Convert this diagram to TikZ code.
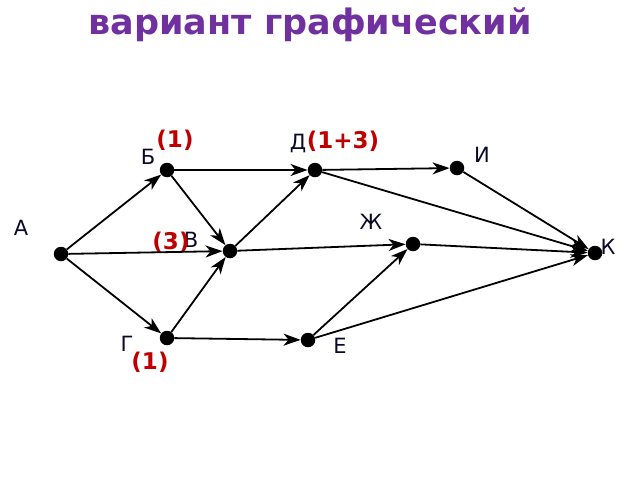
\documentclass[tikz,border=0pt]{standalone}
\usepackage{fontspec}
\setmainfont{DejaVu Sans}
\usetikzlibrary{arrows.meta}
\definecolor{titlecol}{HTML}{7030A0}
\definecolor{redlab}{HTML}{C00000}
\definecolor{labcol}{HTML}{0A0A28}
\begin{document}
\begin{tikzpicture}[x=1pt,y=-1pt,
  dot/.style={circle,fill=black,inner sep=0pt,minimum size=14.5pt},
  edge/.style={draw=black,line width=1.8pt,-{Stealth[length=17pt,width=12pt,inset=5pt]},shorten >=0pt},
  lab/.style={font=\fontsize{21}{21}\selectfont,text=labcol,inner sep=0pt},
  cnt/.style={font=\fontsize{23}{23}\selectfont\bfseries,text=redlab,inner sep=0pt}]
\useasboundingbox (0,0) rectangle (640,480);
\node[font=\fontsize{35}{35}\selectfont\bfseries,text=titlecol,anchor=base,inner sep=0pt] (title) at (310,34) {вариант графический};
\node[dot] (A) at (61,254) {};
\node[dot] (B) at (167,170) {};
\node[dot] (V) at (230,251) {};
\node[dot] (G) at (167,338) {};
\node[dot] (D) at (315,170) {};
\node[dot] (I) at (457,168) {};
\node[dot] (Zh) at (413,244) {};
\node[dot] (E) at (308,340) {};
\node[dot] (K) at (595,253) {};
\node[lab] (lA) at (21,228) {А};
\node[lab] (lB) at (148,157) {Б};
\node[lab] (lV) at (191,240) {В};
\node[lab] (lG) at (127,344) {Г};
\node[lab] (lD) at (298,143) {Д};
\node[lab] (lI) at (482,155) {И};
\node[lab] (lZh) at (371,222) {Ж};
\node[lab] (lE) at (340,346) {Е};
\node[lab] (lK) at (608,247) {К};
\node[cnt] (cB) at (175,140) {(1)};
\node[cnt] (cD) at (343,141) {(1+3)};
\node[cnt] (cV) at (171,242) {(3)};
\node[cnt] (cG) at (150,362) {(1)};
\draw[edge] (A) -- (B);
\draw[edge] (A) -- (V);
\draw[edge] (A) -- (G);
\draw[edge] (B) -- (D);
\draw[edge] (B) -- (V);
\draw[edge] (G) -- (V);
\draw[edge] (G) -- (E);
\draw[edge] (V) -- (D);
\draw[edge] (V) -- (Zh);
\draw[edge] (D) -- (I);
\draw[edge] (D) -- (K);
\draw[edge] (I) -- (K);
\draw[edge] (Zh) -- (K);
\draw[edge] (E) -- (Zh);
\draw[edge] (E) -- (K);
\end{tikzpicture}
\end{document}
